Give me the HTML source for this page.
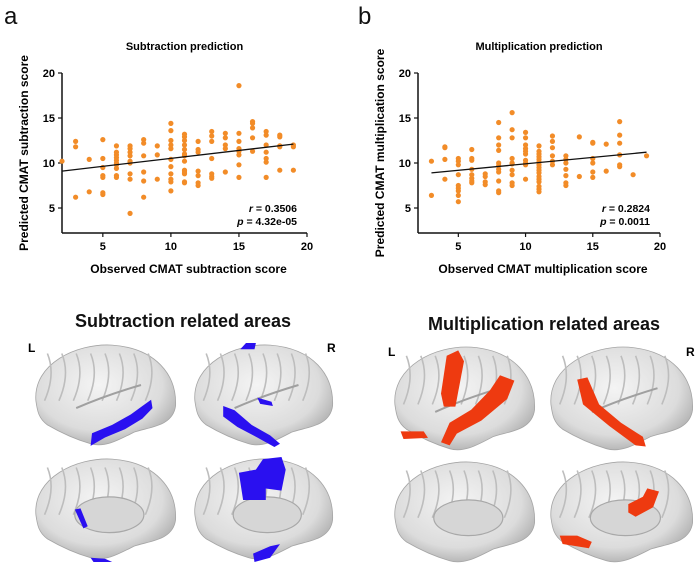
<!DOCTYPE html>
<html><head><meta charset="utf-8"><style>
body{margin:0;background:#fff;font-family:"Liberation Sans",sans-serif;}
#wrap{position:relative;width:699px;height:569px;overflow:hidden;}
svg{position:absolute;left:0;top:0;}
</style></head><body>
<div id="wrap">
<svg id="fig" width="699" height="569">
<defs>
<radialGradient id="brainGrad" cx="45%" cy="40%" r="65%">
<stop offset="0" stop-color="#f4f4f4"/><stop offset="0.7" stop-color="#dcdcdc"/><stop offset="1" stop-color="#ababab"/>
</radialGradient>
</defs>
<text x="4" y="24" font-size="24" fill="#111">a</text>
<text x="358" y="24" font-size="24" fill="#111">b</text>
<g id="chartA"></g>
<g id="chartB"></g>
<text x="183" y="327" font-size="18" font-weight="bold" text-anchor="middle" fill="#111">Subtraction related areas</text>
<text x="544" y="330" font-size="18" font-weight="bold" text-anchor="middle" fill="#111">Multiplication related areas</text>
<text x="28" y="352" font-size="12" font-weight="bold">L</text>
<text x="327" y="352" font-size="12" font-weight="bold">R</text>
<text x="388" y="356" font-size="12" font-weight="bold">L</text>
<text x="686" y="356" font-size="12" font-weight="bold">R</text>
<g id="brains"></g>
</svg>
</div>
<script>
const NS="http://www.w3.org/2000/svg";
function mk(tag,attrs,parent,txt){const e=document.createElementNS(NS,tag);for(const k in attrs)e.setAttribute(k,attrs[k]);if(txt!==undefined)e.textContent=txt;parent.appendChild(e);return e;}

// Chart data
const subX=[2,3,3,3,4,4,5,5,5,5,5,5,5,6,6,6,6,6,6,6,6,6,6,7,7,7,7,7,7,7,7,7,8,8,8,8,8,8,9,9,9,10,10,10,10,10,10,10,10,10,10,10,11,11,11,11,11,11,11,11,11,11,11,11,11,12,12,12,12,12,12,12,13,13,13,13,13,13,13,14,14,14,14,14,15,15,15,15,15,15,15,15,16,16,16,16,16,17,17,17,17,17,17,17,18,18,18,18,18,19,19,19];
const subY=[10.2,12.4,11.8,6.2,10.4,6.8,12.6,10.5,9.5,8.6,8.4,6.7,6.5,11.9,11.2,10.9,10.6,10.3,10,9.8,9.4,8.6,8.4,11.9,11.6,11.2,10.8,10.2,10,8.8,8.2,4.4,12.6,12.2,10.8,9,8,6.2,11.9,10.9,8.2,14.4,13.6,12.5,12,11.6,10.4,9.6,8.8,8.2,7.9,6.9,13.2,12.9,12.5,12,11.5,11,10.8,10.2,9.2,9,8.8,7.9,7.8,12.4,11.5,11.2,9.1,8.6,7.8,7.5,13.5,13,12.4,10.5,8.8,8.5,8.3,13.3,12.8,12,11.6,9,18.6,13.3,12.4,11.6,11.3,10.9,9.8,8.4,14.6,14.4,13.9,12.8,11.3,13.5,13.1,12,11.2,10.5,10.1,8.4,13.1,12.9,11.9,11.8,9.2,12,11.8,9.2];
const subFit=[[2,9.1],[19,12.1]];
const mulX=[3,3,4,4,4,4,5,5,5,5,5,5,5,5,5,6,6,6,6,6,6,6,6,7,7,7,7,8,8,8,8,8,8,8,8,8,8,8,9,9,9,9,9,9,9,9,9,9,10,10,10,10,10,10,10,10,10,10,11,11,11,11,11,11,11,11,11,11,11,11,11,11,11,11,12,12,12,12,12,12,13,13,13,13,13,13,13,14,14,15,15,15,15,15,15,16,16,17,17,17,17,17,17,18,19];
const mulY=[10.2,6.4,11.8,11.7,10.4,8.2,10.5,10.2,9.8,8.7,7.5,7.2,6.9,6.4,5.7,11.5,10.5,10.3,9.3,8.7,8.3,8,7.8,8.8,8.5,7.9,7.6,14.5,12.8,12,11.4,10,9.7,9.3,9,8,6.9,6.7,15.6,13.7,12.8,10.5,10,9.9,9.2,8.7,7.8,7.5,13.4,12.8,12,11.6,11.3,11,10.3,10,9.8,8.2,11.9,11.3,11,10.7,10.4,10.1,9.8,9.5,9.2,8.9,8.5,8.2,7.9,7.4,7.1,6.8,13,12.4,11.7,10.8,10.2,9.8,10.8,10.4,10,9.3,8.6,7.8,7.5,12.9,8.5,12.3,12.2,10.5,10,9,8.4,12.1,9.1,14.6,13.1,12.2,10.9,9.8,9.6,8.7,10.8];
const mulFit=[[3,8.9],[19,11.2]];
const xTicks=[5,10,15,20];
const yTicks=[5,10,15,20];

function chart(g,o){
  const sx=v=>o.x0+(v-2)*(o.x1-o.x0)/18;
  const sy=v=>208-(v-5)*9;
  mk('text',{x:(o.x0+o.x1)/2,y:50,'font-size':11,'font-weight':'bold','text-anchor':'middle'},g,o.title);
  const ya=mk('line',{x1:o.x0,y1:73,x2:o.x0,y2:233,stroke:'#111','stroke-width':1.5},g);
  
  const xa=mk('line',{x1:o.x0,y1:233,x2:o.x1,y2:233,stroke:'#111','stroke-width':1.5},g);
  
  yTicks.forEach(t=>{mk('line',{x1:o.x0-4,y1:sy(t),x2:o.x0,y2:sy(t),stroke:'#111','stroke-width':1.2},g);
    const tl=mk('text',{x:o.x0-7,y:sy(t)+4,'font-size':11,'font-weight':'bold','text-anchor':'end'},g,t);
    });
  xTicks.forEach(t=>{mk('line',{x1:sx(t),y1:233,x2:sx(t),y2:237,stroke:'#111','stroke-width':1.2},g);
    const tl=mk('text',{x:sx(t),y:250,'font-size':11,'font-weight':'bold','text-anchor':'middle'},g,t);
    });
  o.xs.forEach((x,i)=>{const c=mk('circle',{cx:sx(x),cy:sy(o.ys[i]),r:2.6,fill:'#f28c28'},g);
    });
  const fl=mk('line',{x1:sx(o.fit[0][0]),y1:sy(o.fit[0][1]),x2:sx(o.fit[1][0]),y2:sy(o.fit[1][1]),stroke:'#111','stroke-width':1.3},g);
  
  const r=mk('text',{x:o.x1-10,y:212,'font-size':10.5,'font-weight':'bold','text-anchor':'end'},g);
  mk('tspan',{'font-style':'italic'},r,'r');mk('tspan',{},r,' = '+o.r);
  
  const p=mk('text',{x:o.x1-10,y:225,'font-size':10.5,'font-weight':'bold','text-anchor':'end'},g);
  mk('tspan',{'font-style':'italic'},p,'p');mk('tspan',{},p,' = '+o.p);
  
  const xl=mk('text',{x:(o.x0+o.x1)/2+4,y:273,'font-size':12,'font-weight':'bold','text-anchor':'middle'},g,o.xl);
  
  const yl=mk('text',{x:0,y:0,'font-size':12,'font-weight':'bold','text-anchor':'middle',transform:`translate(${o.x0-34},153) rotate(-90)`},g,o.yl);
  
}
chart(document.getElementById('chartA'),{x0:62,x1:307,xs:subX,ys:subY,fit:subFit,title:'Subtraction prediction',r:'0.3506',p:'4.32e-05',xl:'Observed CMAT subtraction score',yl:'Predicted CMAT subtraction score'});
chart(document.getElementById('chartB'),{x0:418,x1:660,xs:mulX,ys:mulY,fit:mulFit,title:'Multiplication prediction',r:'0.2824',p:'0.0011',xl:'Observed CMAT multiplication score',yl:'Predicted CMAT multiplication score'});

// Brains (blob polygons normalized 0-1 in brain box)
const B=document.getElementById('brains');
function brain(x,y,w,h,medial,blobs,name){
  const g=mk('g',{transform:`translate(${x},${y})`},B);
  
  const path=`M${w*0.02},${h*0.55} C${w*0.0},${h*0.2} ${w*0.3},${h*0.0} ${w*0.55},${h*0.02} C${w*0.85},${h*0.05} ${w*1.0},${h*0.3} ${w*0.99},${h*0.6} C${w*0.97},${h*0.8} ${w*0.8},${h*0.8} ${w*0.7},${h*0.85} C${w*0.6},${h*0.92} ${w*0.5},${h*1.0} ${w*0.4},${h*0.96} C${w*0.3},${h*0.92} ${w*0.2},${h*0.86} ${w*0.1},${h*0.78} C${w*0.04},${h*0.72} ${w*0.03},${h*0.65} ${w*0.02},${h*0.55}Z`;
  mk('path',{d:path,fill:'url(#brainGrad)',stroke:'#a5a5a5','stroke-width':0.8},g);
  for(let i=0;i<8;i++){mk('path',{d:`M${w*(0.1+i*0.1)},${h*0.1} q${w*0.06},${h*0.2} ${-w*0.02},${h*0.45}`,fill:'none',stroke:'#bdbdbd','stroke-width':1.6},g);}
  if(medial){mk('ellipse',{cx:w*0.53,cy:h*0.55,rx:w*0.24,ry:h*0.17,fill:'#d6d6d6',stroke:'#a8a8a8','stroke-width':1.2},g);}
  else{mk('path',{d:`M${w*0.3},${h*0.62} Q${w*0.5},${h*0.5} ${w*0.75},${h*0.4}`,fill:'none',stroke:'#a0a0a0','stroke-width':2},g);}
  blobs.forEach(b=>{const d='M'+b.p.map(q=>(q[0]*w).toFixed(1)+','+(q[1]*h).toFixed(1)).join(' L')+' Z';
    const e=mk('path',{d:d,fill:b.c},g);});
}
const blue='#2a10f0',red='#ee3a10';
brain(33,343,144,105,false,[{c:blue,p:[[0.40,0.98],[0.41,0.86],[0.55,0.78],[0.68,0.68],[0.76,0.6],[0.82,0.54],[0.83,0.62],[0.76,0.72],[0.64,0.82],[0.5,0.9]]}],'brain-left-lateral-sub');
brain(192,343,142,105,false,[{c:blue,p:[[0.22,0.6],[0.3,0.64],[0.42,0.78],[0.55,0.88],[0.62,0.96],[0.58,0.99],[0.46,0.9],[0.32,0.8],[0.22,0.7]]},{c:blue,p:[[0.34,0.06],[0.38,0],[0.45,0],[0.44,0.06]]},{c:blue,p:[[0.46,0.52],[0.56,0.56],[0.57,0.6],[0.48,0.58]]}],'brain-right-lateral-sub');
brain(33,457,144,105,true,[{c:blue,p:[[0.29,0.5],[0.33,0.49],[0.38,0.66],[0.35,0.68]]},{c:blue,p:[[0.4,0.96],[0.5,0.97],[0.55,1],[0.42,1]]}],'brain-left-medial-sub');
brain(192,457,142,105,true,[{c:blue,p:[[0.33,0.15],[0.45,0.12],[0.5,0.02],[0.63,0],[0.66,0.12],[0.63,0.32],[0.52,0.3],[0.52,0.41],[0.36,0.41]]},{c:blue,p:[[0.43,0.92],[0.55,0.85],[0.62,0.83],[0.55,0.96],[0.44,1]]}],'brain-right-medial-sub');
brain(392,345,144,108,false,[{c:red,p:[[0.34,0.45],[0.38,0.1],[0.46,0.05],[0.5,0.15],[0.44,0.57],[0.36,0.57]]},{c:red,p:[[0.34,0.9],[0.4,0.72],[0.55,0.6],[0.68,0.42],[0.75,0.28],[0.85,0.33],[0.8,0.5],[0.62,0.7],[0.45,0.82],[0.4,0.93]]},{c:red,p:[[0.06,0.8],[0.22,0.8],[0.25,0.86],[0.08,0.87]]}],'brain-left-lateral-mul');
brain(548,345,146,108,false,[{c:red,p:[[0.2,0.32],[0.27,0.3],[0.35,0.55],[0.5,0.72],[0.65,0.85],[0.67,0.94],[0.6,0.93],[0.42,0.75],[0.24,0.55]]}],'brain-right-lateral-mul');
brain(392,460,144,105,true,[],'brain-left-medial-mul');
brain(548,460,146,105,true,[{c:red,p:[[0.55,0.42],[0.65,0.35],[0.68,0.27],[0.76,0.3],[0.72,0.45],[0.6,0.54],[0.55,0.5]]},{c:red,p:[[0.08,0.72],[0.2,0.72],[0.3,0.78],[0.28,0.84],[0.1,0.8]]}],'brain-right-medial-mul');
</script>
</body></html>
